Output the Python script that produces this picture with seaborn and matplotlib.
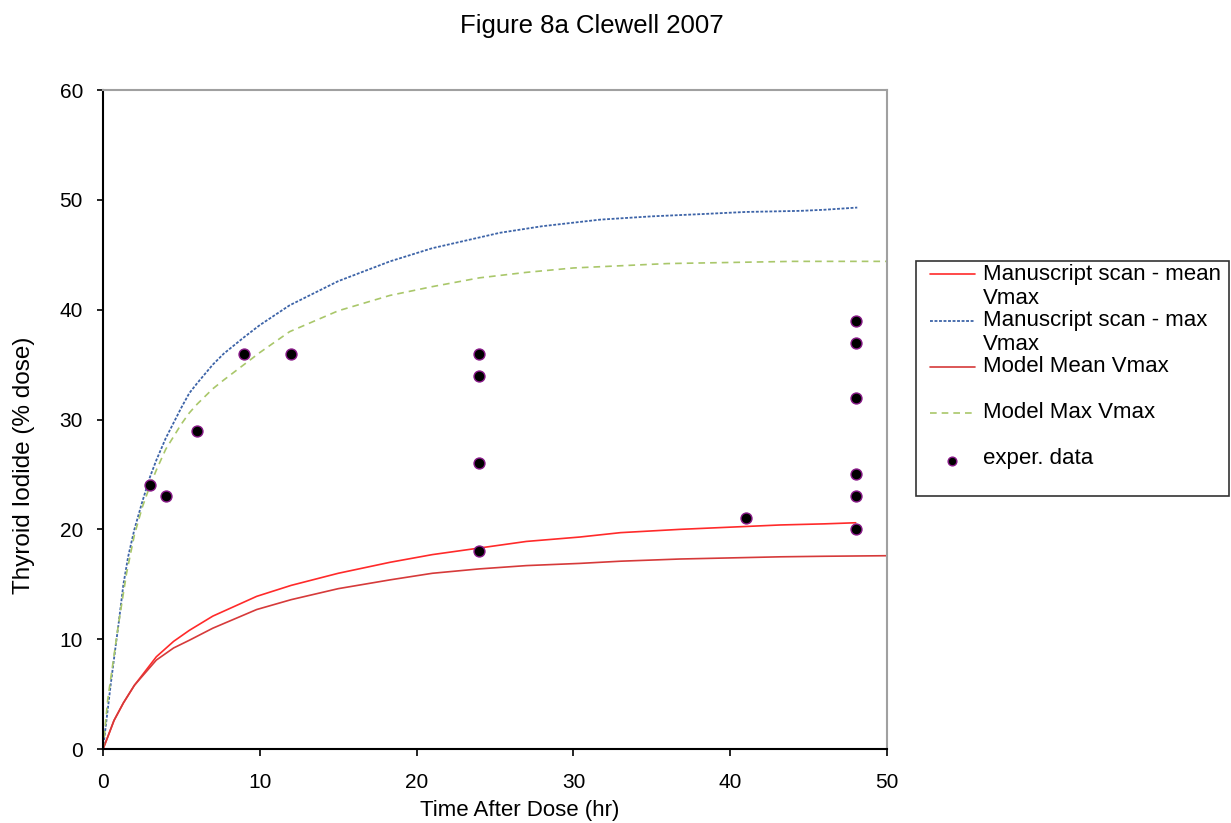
import matplotlib
matplotlib.use("Agg")
import matplotlib.pyplot as plt
import seaborn as sns
import numpy as np

# ---- data ----
t_ms_mean = [0, 0.3, 0.7, 1.3, 2, 3.4, 4.5, 5.5, 7, 9.8, 12, 15, 18.3, 21, 24, 27, 30.4, 33, 36.8, 40, 43.2, 46, 48]
y_ms_mean = [0, 1.1, 2.6, 4.2, 5.8, 8.4, 9.8, 10.8, 12.1, 13.9, 14.9, 16.0, 17.0, 17.7, 18.3, 18.9, 19.3, 19.7, 20.0, 20.2, 20.4, 20.5, 20.6]

t_md_mean = [0, 0.3, 0.7, 1.3, 2, 3.4, 4.5, 5.5, 7, 9.8, 12, 15, 18.3, 21, 24, 27, 30.4, 33, 36.8, 40, 43.2, 46, 50]
y_md_mean = [0, 1.1, 2.6, 4.2, 5.8, 8.1, 9.2, 9.9, 11.0, 12.7, 13.6, 14.6, 15.4, 16.0, 16.4, 16.7, 16.9, 17.1, 17.3, 17.4, 17.5, 17.55, 17.6]

t_ms_max = [0, 0.5, 0.77, 1, 1.3, 1.6, 2, 2.5, 3, 3.4, 4, 5, 5.5, 6, 7, 7.7, 9, 10, 11.9, 15, 18.3, 21, 25.3, 28, 31.7, 35, 38.1, 41, 44.5, 46, 48.1]
y_ms_max = [0, 6, 9, 11.5, 15, 17.5, 20, 22.5, 24.8, 26.3, 28.3, 31.1, 32.4, 33.3, 35, 36.0, 37.5, 38.6, 40.4, 42.6, 44.4, 45.6, 47.0, 47.6, 48.2, 48.5, 48.7, 48.9, 49.0, 49.1, 49.3]

t_md_max = [0, 0.3, 0.7, 1, 1.5, 2, 2.5, 3, 3.4, 4, 5, 5.5, 6, 7, 7.7, 10, 11.9, 15, 18.3, 21, 24, 27, 30, 33, 36, 40, 44, 50]
y_md_max = [0, 4.5, 8.5, 11.5, 16, 19.5, 22, 24, 25.4, 27.3, 29.6, 30.6, 31.4, 32.8, 33.6, 36.1, 38.0, 39.9, 41.3, 42.1, 42.9, 43.4, 43.8, 44.0, 44.2, 44.3, 44.4, 44.4]

t_exp = [3, 4, 6, 9, 12, 24, 24, 24, 24, 41, 48, 48, 48, 48, 48, 48]
y_exp = [24, 23, 29, 36, 36, 36, 34, 26, 18, 21, 39, 37, 32, 25, 23, 20]

x_ticks = [0, 10, 20, 30, 40, 50]
y_ticks = [0, 10, 20, 30, 40, 50, 60]

labels = ["Manuscript scan - mean\nVmax", "Manuscript scan - max\nVmax",
          "Model Mean Vmax\n ", "Model Max Vmax\n ", "exper. data\n "]

sns.set_style("white")
plt.rcParams['font.family'] = ['Liberation Sans', 'DejaVu Sans']
plt.rcParams['text.color'] = 'black'
plt.rcParams['axes.labelcolor'] = 'black'
plt.rcParams['xtick.color'] = 'black'
plt.rcParams['ytick.color'] = 'black'

fig = plt.figure(figsize=(12.31, 8.23), dpi=100)
ax = fig.add_axes([0.0837, 0.0899, 0.7206 - 0.0837, 0.8906 - 0.0899])

sns.lineplot(x=t_ms_mean, y=y_ms_mean, ax=ax, color="#ff2a2a", lw=1.2,
             sort=False, estimator=None, label=labels[0])
sns.lineplot(x=t_ms_max, y=y_ms_max, ax=ax, color="#3d64a8", lw=1.3,
             sort=False, estimator=None, label=labels[1],
             dashes=False, linestyle=(0, (1.6, 0.9)))
sns.lineplot(x=t_md_mean, y=y_md_mean, ax=ax, color="#d63a3a", lw=1.2,
             sort=False, estimator=None, label=labels[2])
sns.lineplot(x=t_md_max, y=y_md_max, ax=ax, color="#a9c76a", lw=1.2,
             sort=False, estimator=None, label=labels[3],
             dashes=False, linestyle=(0, (4, 3)))
sns.scatterplot(x=t_exp, y=y_exp, ax=ax, s=62, color="#000000",
                edgecolor="#8a1a8a", linewidth=1.0, label=labels[4], zorder=5)

ax.set_xlim(0, 50)
ax.set_ylim(0, 60)
ax.set_xticks(x_ticks)
ax.set_yticks(y_ticks)
ax.tick_params(axis='x', which='major', direction='out', length=5, width=1.2,
               labelsize=15, pad=12, bottom=True)
ax.tick_params(axis='y', which='major', direction='out', length=4.5, width=1.2,
               labelsize=15, pad=10, left=True)

for side in ['left', 'bottom']:
    ax.spines[side].set_color('black')
    ax.spines[side].set_linewidth(1.5)
for side in ['top', 'right']:
    ax.spines[side].set_color('#a0a0a0')
    ax.spines[side].set_linewidth(1.5)

ax.set_xlabel("Time After Dose (hr)", fontsize=16, labelpad=6)
ax.set_ylabel("Thyroid Iodide (% dose)", fontsize=17.5, labelpad=18)
ax.xaxis.label.set_x(0.532)
ax.yaxis.label.set_y(0.431)

fig.text(0.481, 1 - 33 / 823, "Figure 8a Clewell 2007", ha='center',
         va='baseline', fontsize=18.5)

leg = ax.legend(loc='upper left', bbox_to_anchor=(0.744, 0.402, 0.254, 0.2805),
                bbox_transform=fig.transFigure, fontsize=16, frameon=True,
                fancybox=False, edgecolor='black', handlelength=2.4,
                handletextpad=0.51, labelspacing=0.01, borderpad=0.1,
                borderaxespad=0, mode='expand', markerscale=0.8)
leg.get_frame().set_linewidth(1.2)
for txt in leg.get_texts():
    txt.set_linespacing(1.24)

# align handles with the first text line of each (two-line) entry
shift = 8.8  # points
for ln in leg.get_lines():
    y0 = float(np.asarray(ln.get_ydata(), dtype=float)[0]) + shift
    ln.set_data([8.5, 40.8], [y0, y0])
for h in leg.legend_handles:
    if not isinstance(h, matplotlib.lines.Line2D):
        off = np.asarray(h.get_offsets(), dtype=float)
        off[:, 1] += shift
        off[:, 0] = 24.4
        h.set_offsets(off)

fig.savefig("out.png", dpi=100)
